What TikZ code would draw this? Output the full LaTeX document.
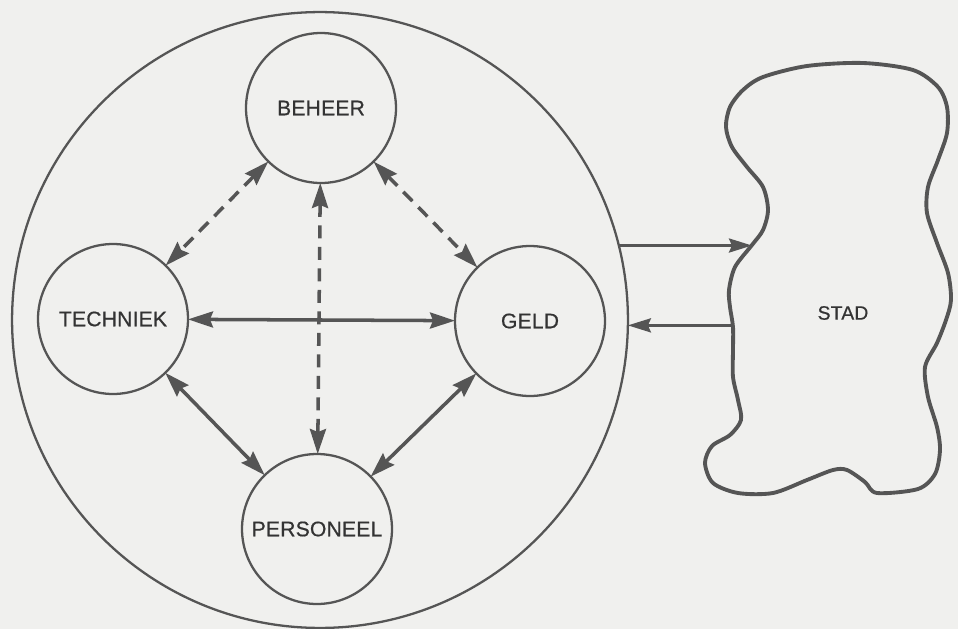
\documentclass[tikz,border=0pt]{standalone}
\usepackage{fontspec}
\setmainfont{Liberation Sans}[LetterSpace=1, FakeBold=0.6]
\usetikzlibrary{arrows.meta}
\definecolor{ink}{HTML}{555555}
\definecolor{paper}{HTML}{F0F0EE}

\begin{document}
\begin{tikzpicture}[x=0.02cm, y=-0.02cm,
    part/.style={circle, draw=ink, line width=1.3pt, minimum size=3cm,
                 inner sep=0pt, outer sep=0pt, text=ink!60!black,
                 font=\fontsize{12}{14}\selectfont},
    link/.style={{Stealth[length=0.5cm, width=0.32cm, inset=0.06cm]}-{Stealth[length=0.5cm, width=0.32cm, inset=0.06cm]},
                 line width=2pt, draw=ink},
    dlink/.style={link, dash pattern=on 0.26cm off 0.17cm},
    flow/.style={-{Stealth[length=0.46cm, width=0.28cm, inset=0.06cm]}, line width=1.7pt, draw=ink},
  ]
  % paper
  \fill[paper] (0,0) rectangle (958,629);
  \useasboundingbox (0,0) rectangle (958,629);

  % organisation
  \node[circle, draw=ink, line width=1.3pt, minimum size=12.32cm,
        inner sep=0pt, outer sep=0pt] (org) at (320,320) {};
  \node[part] (beheer) at (321,108) {BEHEER};
  \node[part] (techniek) at (113,319) {TECHNIEK};
  \node[part] (geld) at (530,321) {GELD};
  \node[part] (personeel) at (317,529) {PERSONEEL};

  % relations inside
  \draw[dlink] (beheer) -- (techniek);
  \draw[dlink] (beheer) -- (geld);
  \draw[dlink] (beheer) -- (personeel);
  \draw[link] (techniek) -- (geld);
  \draw[link] (techniek) -- (personeel);
  \draw[link] (geld) -- (personeel);

  % city
  \draw[ink, line width=2.2pt] plot[smooth cycle, tension=0.5] coordinates {
    (807,66) (863,63) (913,70) (938,87) (947,107) (947,133) (938,160)
    (928,187) (927,213) (937,243) (948,273) (951,300) (946,320) (937,343)
    (925,367) (928,397) (937,427) (940,450) (935,474) (918,489) (877,493)
    (865,482) (847,470) (833,470) (807,480) (773,493) (738,493) (713,483)
    (705,463) (712,446) (730,435) (741,420) (738,400) (733,377) (733,350)
    (733,327) (730,307) (729,290) (735,267) (752,245) (763,230) (768,210)
    (763,187) (747,167) (732,147) (726,127) (730,107) (743,90) (763,77)};
  \node[text=ink!60!black, font=\fontsize{11}{12}\selectfont] (stad) at (843,313) {STAD};
  \coordinate (stadin) at (752,245);
  \coordinate (stadout) at (733,326);

  % exchange with the city
  \draw[flow] (org.14) -- (org.14 -| stadin);
  \draw[flow] (org.-1 -| stadout) -- (org.-1);
\end{tikzpicture}
\end{document}
